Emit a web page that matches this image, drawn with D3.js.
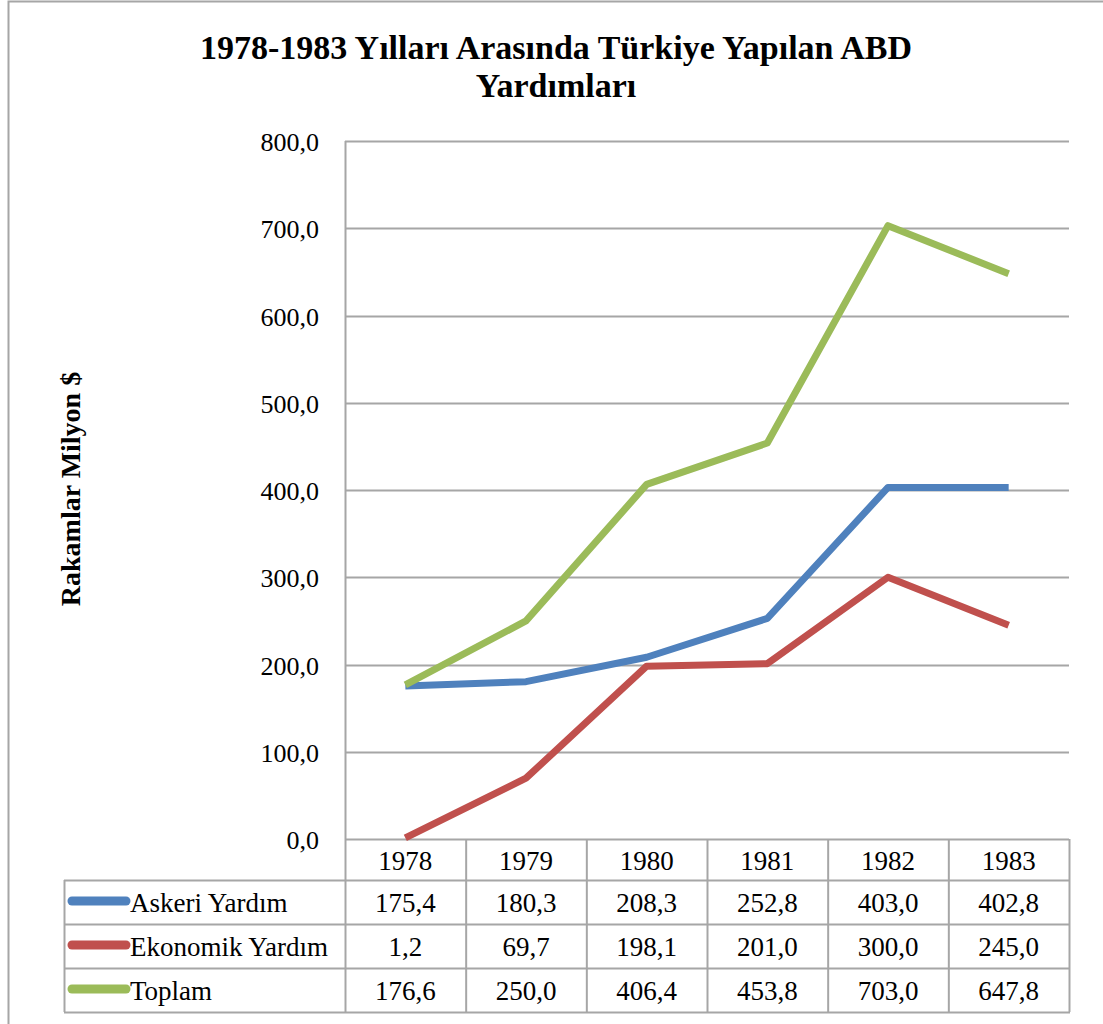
<!DOCTYPE html>
<html>
<head>
<meta charset="utf-8">
<script src="https://cdn.jsdelivr.net/npm/d3@7"></script>
<style>
  body { margin: 0; background: #fff; }
  text { font-family: "Liberation Serif", "DejaVu Serif", serif; }
</style>
</head>
<body>
<script>
'use strict';

// chart data
var years = ['1978', '1979', '1980', '1981', '1982', '1983'];
var seriesNames = ['Askeri Yardım', 'Ekonomik Yardım', 'Toplam'];
var askeri = [175.4, 180.3, 208.3, 252.8, 403.0, 402.8];
var ekonomik = [1.2, 69.7, 198.1, 201.0, 300.0, 245.0];
var toplam = [176.6, 250.0, 406.4, 453.8, 703.0, 647.8];
var yTicks = [0, 100, 200, 300, 400, 500, 600, 700, 800];
var colors = ['#4F81BD', '#C0504D', '#9BBB59'];

var series = [askeri, ekonomik, toplam].map(function (vals, i) {
    return {name: seriesNames[i], values: vals, color: colors[i]};
});

var width = 1103, height = 1024;
var plot = {left: 345, right: 1069, top: 141, bottom: 839};
var rowH = 44;
var tableLeft = 64;
var fmt = function (v) { return v.toFixed(1).replace('.', ','); };

var svg = d3.select('body').append('svg')
    .attr('width', width)
    .attr('height', height);

// outer frame
svg.append('rect')
    .attr('x', 8.5).attr('y', 1.5)
    .attr('width', width).attr('height', height)
    .attr('fill', 'none').attr('stroke', '#a6a6a6').attr('stroke-width', 2);

// title
var title = svg.append('text')
    .attr('x', 556).attr('y', 59)
    .attr('text-anchor', 'middle')
    .style('font-size', '34px').style('font-weight', 'bold');
title.append('tspan').attr('x', 556).text('1978-1983 Yılları Arasında Türkiye Yapılan ABD');
title.append('tspan').attr('x', 556).attr('dy', 38).text('Yardımları');

var x = d3.scaleBand().domain(years).range([plot.left, plot.right]);
var y = d3.scaleLinear().domain([0, 800]).range([plot.bottom, plot.top]);

// gridlines
svg.append('g').selectAll('line')
    .data(yTicks)
    .enter().append('line')
    .attr('x1', plot.left).attr('x2', plot.right)
    .attr('y1', function (d) { return Math.round(y(d)) + 0.5; })
    .attr('y2', function (d) { return Math.round(y(d)) + 0.5; })
    .attr('stroke', '#a6a6a6').attr('stroke-width', 2);

svg.append('line')
    .attr('x1', plot.left + 0.5).attr('x2', plot.left + 0.5)
    .attr('y1', plot.top).attr('y2', plot.bottom)
    .attr('stroke', '#a6a6a6').attr('stroke-width', 2);

// y tick labels
svg.append('g').selectAll('text')
    .data(yTicks)
    .enter().append('text')
    .attr('x', 319)
    .attr('y', function (d) { return y(d) + 10; })
    .attr('text-anchor', 'end')
    .style('font-size', '26px')
    .text(fmt);

// y axis title
svg.append('text')
    .attr('transform', 'translate(80,489) rotate(-90)')
    .attr('text-anchor', 'middle')
    .style('font-size', '28px').style('font-weight', 'bold')
    .text('Rakamlar Milyon $');

// lines
var line = d3.line()
    .x(function (d, i) { return x(years[i]) + x.bandwidth() / 2; })
    .y(function (d) { return y(d); });

svg.append('g').selectAll('path')
    .data(series)
    .enter().append('path')
    .attr('d', function (d) { return line(d.values); })
    .attr('fill', 'none')
    .attr('stroke', function (d) { return d.color; })
    .attr('stroke-width', 7)
    .attr('stroke-linejoin', 'round');

// data table
var table = svg.append('g');
var tableTop = plot.bottom;
var headerH = 41;
var tableBottom = tableTop + headerH + rowH * series.length;
var gridStroke = {stroke: '#a6a6a6', width: 2};

// vertical lines of table
var colEdges = years.map(function (yr) { return x(yr); }).concat([plot.right]);
table.selectAll('.vline')
    .data(colEdges)
    .enter().append('line')
    .attr('x1', function (d) { return d + 0.5; })
    .attr('x2', function (d) { return d + 0.5; })
    .attr('y1', tableTop).attr('y2', tableBottom)
    .attr('stroke', gridStroke.stroke).attr('stroke-width', gridStroke.width);

table.append('line')
    .attr('x1', tableLeft + 0.5).attr('x2', tableLeft + 0.5)
    .attr('y1', tableTop + headerH).attr('y2', tableBottom)
    .attr('stroke', gridStroke.stroke).attr('stroke-width', gridStroke.width);

// horizontal lines of table
var rowEdges = d3.range(series.length + 1).map(function (i) { return tableTop + headerH + i * rowH; });
table.selectAll('.hline')
    .data(rowEdges)
    .enter().append('line')
    .attr('x1', tableLeft).attr('x2', plot.right + 1)
    .attr('y1', function (d) { return d + 0.5; })
    .attr('y2', function (d) { return d + 0.5; })
    .attr('stroke', gridStroke.stroke).attr('stroke-width', gridStroke.width);

// header years
table.selectAll('.year')
    .data(years)
    .enter().append('text')
    .attr('x', function (d) { return x(d) + x.bandwidth() / 2; })
    .attr('y', tableTop + 31)
    .attr('text-anchor', 'middle')
    .style('font-size', '27px')
    .text(function (d) { return d; });

// rows
var rows = table.selectAll('.row')
    .data(series)
    .enter().append('g')
    .attr('transform', function (d, i) { return 'translate(0,' + (tableTop + headerH + i * rowH) + ')'; });

rows.append('line')
    .attr('x1', tableLeft + 8).attr('x2', tableLeft + 62)
    .attr('y1', rowH / 2 - 1).attr('y2', rowH / 2 - 1)
    .attr('stroke', function (d) { return d.color; })
    .attr('stroke-width', 9)
    .attr('stroke-linecap', 'round');

rows.append('text')
    .attr('x', tableLeft + 66)
    .attr('y', rowH / 2 + 10)
    .style('font-size', '27px')
    .text(function (d) { return d.name; });

rows.selectAll('.val')
    .data(function (d) { return d.values; })
    .enter().append('text')
    .attr('x', function (d, i) { return x(years[i]) + x.bandwidth() / 2; })
    .attr('y', rowH / 2 + 10)
    .attr('text-anchor', 'middle')
    .style('font-size', '27px')
    .text(fmt);
</script>
</body>
</html>
